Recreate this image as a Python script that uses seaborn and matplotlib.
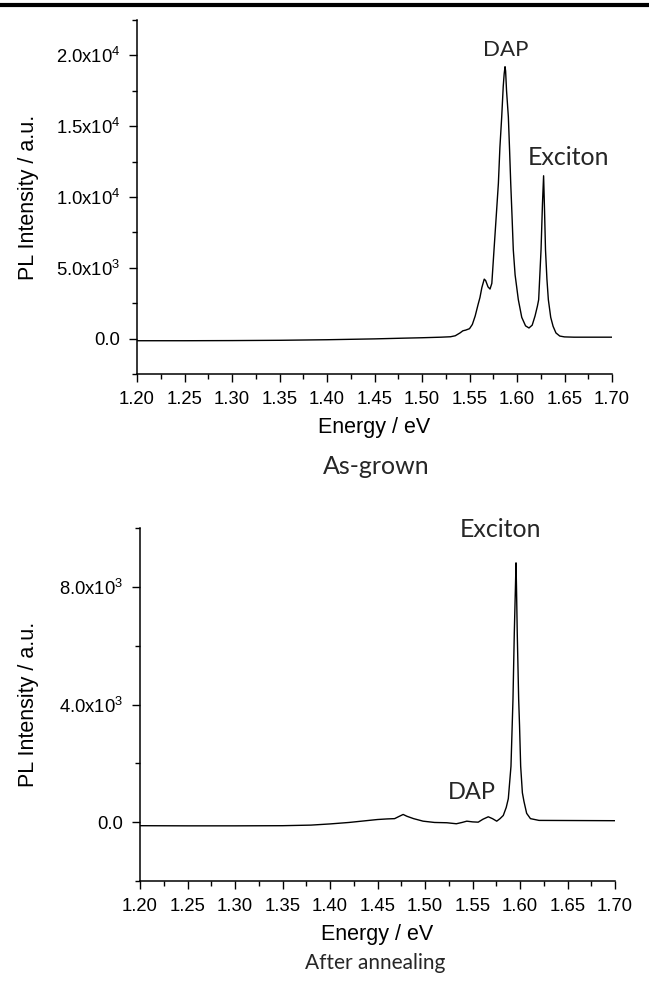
import matplotlib
matplotlib.use("Agg")
import matplotlib.pyplot as plt
from matplotlib.lines import Line2D
from matplotlib.ticker import MultipleLocator
import seaborn as sns
import pandas as pd

# ---------------- data ----------------
energy_asgrown = [1.200, 1.250, 1.300, 1.350, 1.400, 1.450, 1.480, 1.500, 1.520, 1.530,
                  1.535, 1.540, 1.543, 1.546, 1.548, 1.550, 1.553, 1.556, 1.559, 1.561,
                  1.563, 1.5655, 1.567, 1.5695, 1.5716, 1.5735, 1.5758, 1.578, 1.5804, 1.582,
                  1.5839, 1.5855, 1.5865, 1.5874, 1.5880, 1.589, 1.5909, 1.5922, 1.5934, 1.5948,
                  1.5961, 1.598, 1.6014, 1.605, 1.609, 1.6126, 1.616, 1.619, 1.6215, 1.6228,
                  1.6253, 1.6268, 1.628, 1.629, 1.630, 1.6315, 1.633, 1.6355, 1.638, 1.641,
                  1.645, 1.650, 1.660, 1.700]
intensity_asgrown = [-150, -150, -140, -120, -80, -20, 30, 60, 100, 130,
                     200, 400, 550, 600, 650, 700, 1000, 1600, 2400, 2900,
                     3600, 4200, 4100, 3650, 3500, 3900, 6267, 8500, 10964, 13500,
                     15655, 17800, 18700, 19200, 18900, 17500, 15655, 13300, 10964, 8600,
                     6267, 4500, 2746, 1500, 900, 750, 950, 1600, 2300, 2746,
                     6267, 9500, 11500, 9000, 6267, 4200, 2746, 1500, 866, 400,
                     180, 120, 100, 100]

energy_annealed = [1.200, 1.250, 1.300, 1.350, 1.380, 1.400, 1.420, 1.435, 1.450, 1.460,
                   1.468, 1.473, 1.477, 1.481, 1.488, 1.498, 1.510, 1.523, 1.533, 1.539,
                   1.544, 1.550, 1.556, 1.561, 1.5666, 1.571, 1.5755, 1.579, 1.5824, 1.5855,
                   1.5877, 1.5905, 1.5926, 1.5940, 1.5952, 1.5958, 1.5963, 1.5971, 1.5986, 1.5995,
                   1.6007, 1.6025, 1.6042, 1.607, 1.611, 1.620, 1.700]
intensity_annealed = [-120, -125, -125, -120, -100, -60, -10, 40, 90, 110,
                      120, 200, 262, 200, 120, 34, -10, -20, -54, -10,
                      34, 10, 0, 100, 183, 120, 34, 120, 228, 500,
                      800, 1900, 4169, 6436, 8000, 8815, 8000, 6436, 4169, 3300,
                      1903, 1000, 700, 300, 120, 60, 50]

xticks = [1.20, 1.25, 1.30, 1.35, 1.40, 1.45, 1.50, 1.55, 1.60, 1.65, 1.70]
yticks_top = [0, 5000, 10000, 15000, 20000]
ylabels_top = ["0.0", r"5.0x10$^\mathregular{3}$", r"1.0x10$^\mathregular{4}$",
               r"1.5x10$^\mathregular{4}$", r"2.0x10$^\mathregular{4}$"]
yticks_bot = [0, 4000, 8000]
ylabels_bot = ["0.0", r"4.0x10$^\mathregular{3}$", r"8.0x10$^\mathregular{3}$"]

# ---------------- style ----------------
sns.set_theme(style="ticks")
plt.rcParams['font.family'] = ['Liberation Sans', 'DejaVu Sans']
plt.rcParams['mathtext.fontset'] = 'custom'
plt.rcParams['mathtext.rm'] = 'Liberation Sans'
plt.rcParams['mathtext.it'] = 'Liberation Sans'
plt.rcParams['mathtext.bf'] = 'Liberation Sans'

W, H = 649, 998
fig = plt.figure(figsize=(W / 100, H / 100), dpi=100)

def px_axes(l, r, t, b):
    return fig.add_axes([l / W, 1 - b / H, (r - l) / W, (b - t) / H])

ax1 = px_axes(137, 612, 20, 374)
ax2 = px_axes(140, 615, 528, 881)

df1 = pd.DataFrame({"Energy": energy_asgrown, "Intensity": intensity_asgrown})
df2 = pd.DataFrame({"Energy": energy_annealed, "Intensity": intensity_annealed})

sns.lineplot(data=df1, x="Energy", y="Intensity", ax=ax1, color="black", lw=1.0,
             sort=False, estimator=None)
sns.lineplot(data=df2, x="Energy", y="Intensity", ax=ax2, color="black", lw=1.0,
             sort=False, estimator=None)

label_font = 15.5
for ax, ylim, yt, yl, ymin in [(ax1, (-2500, 22500), yticks_top, ylabels_top, 2500),
                               (ax2, (-2000, 10000), yticks_bot, ylabels_bot, 2000)]:
    ax.set_xlim(1.20, 1.70)
    ax.set_ylim(*ylim)
    ax.set_xticks(xticks)
    ax.set_xticklabels([f"{v:.2f}" for v in xticks])
    ax.xaxis.set_minor_locator(MultipleLocator(0.025))
    ax.set_yticks(yt)
    ax.set_yticklabels(yl)
    ax.yaxis.set_minor_locator(MultipleLocator(ymin))
    for s in ["top", "right"]:
        ax.spines[s].set_visible(False)
    for s in ["left", "bottom"]:
        ax.spines[s].set_linewidth(1.1)
        ax.spines[s].set_color("black")
    ax.tick_params(which="major", direction="out", length=6, width=1.0, colors="black",
                   labelsize=13.3, pad=6)
    ax.tick_params(which="minor", direction="out", length=3.5, width=1.0, colors="black")
    ax.set_xlabel("Energy / eV", fontsize=label_font, labelpad=7, color="black")
    ax.set_ylabel("PL Intensity / a.u.", fontsize=label_font, color="black")
    ax.grid(False)

ax1.yaxis.set_label_coords(-0.206, 0.5)
ax2.yaxis.set_label_coords(-0.2126, 0.5)

ann_font = ['Lato', 'DejaVu Sans']
ax1.text(1.5884, 19929, "DAP", ha="center", va="baseline", fontsize=16, family=ann_font)
ax1.text(1.6547, 12253, "Exciton", ha="center", va="baseline", fontsize=18, family=ann_font)
ax2.text(1.5800, 9708, "Exciton", ha="center", va="baseline", fontsize=18, family=ann_font)
ax2.text(1.5495, 771, "DAP", ha="center", va="baseline", fontsize=17, family=ann_font)

fig.text(376 / W, 1 - 467 / H, "As-grown", ha="center", va="center", fontsize=18, family=ann_font)
fig.text(375 / W, 1 - 963 / H, "After annealing", ha="center", va="center", fontsize=15, family=ann_font)

fig.add_artist(Line2D([0, 1], [1 - 5 / H, 1 - 5 / H], transform=fig.transFigure,
                      color="black", lw=3.0))

fig.savefig("out.png", dpi=100, facecolor="white")
